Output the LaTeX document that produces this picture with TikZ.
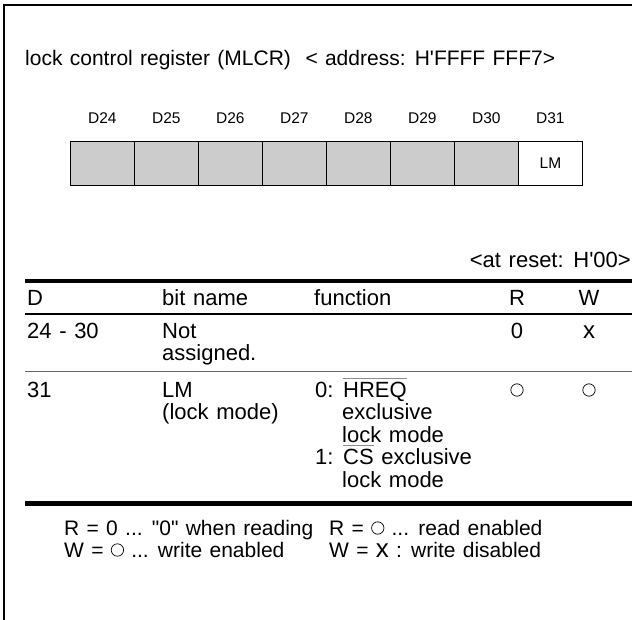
\documentclass[tikz,border=0pt]{standalone}
\usepackage{fontspec}
\setmainfont{Liberation Sans}[WordSpace=1.25, Ligatures=TeXOff]
\usetikzlibrary{positioning}

% bar over an active-low signal name
\newcommand\actlow[1]{\setbox0\hbox{#1}\rlap{\color{black!45}\rule[\dimexpr\ht0+3pt\relax]{\wd0}{0.8pt}}\box0\relax}
% open circle mark for R/W columns
\newcommand\rwmark{\tikz[baseline=0pt]\draw[line width=0.7pt] (0pt,7pt) circle[radius=6.2pt];}

\begin{document}
\begin{tikzpicture}[x=1pt, y=-1pt,
    every node/.style={inner sep=0pt, font=\fontsize{22}{26}\selectfont},
    txt/.style={anchor=base west},
    ctr/.style={anchor=base},
    bitcell/.style={draw, fill=black!20, line width=0.8pt, minimum width=64pt, minimum height=44pt, anchor=north west},
    bitlabel/.style={font=\fontsize{15.5}{18}\selectfont},
    legend/.style={anchor=base west, font=\fontsize{21}{24}\selectfont}]
  \useasboundingbox (0,0) rectangle (632,620);

  % Frame
  \draw[line width=2pt] (4,620) -- (4,5) -- (632,5);

  % Register layout
  \node[txt, font=\fontsize{21}{24}\selectfont] (title) at (25,66) {lock control register (MLCR)\ \ < address: H'FFFF FFF7>};
  \foreach \b [count=\i from 0] in {24,...,30}
    \node[bitcell] (c\b) at (70+64*\i,141) {};
  \node[bitcell, fill=white, bitlabel] (c31) at (518,141) {LM};
  \foreach \b in {24,...,31}
    \node[bitlabel, above=17pt of c\b] (d\b) {D\b};

  % Table
  \node[anchor=base east] (reset) at (631,268) {<at reset: H'00>};
  \draw[line width=4.5pt] (25,281) -- (632,281);
  \node[txt] (hd) at (27,306) {D};
  \node[txt] (hname) at (162,306) {bit name};
  \node[txt] (hfunc) at (314,306) {function};
  \node[ctr] (hr) at (517,306) {R};
  \node[ctr] (hw) at (589,306) {W};
  \draw[line width=2pt] (25,314) -- (632,314);

  \node[txt] (d1) at (27,338) {24 - 30};
  \node[txt] (n1) at (162,338) {Not};
  \node[txt] (n1b) at (162,360.5) {assigned.};
  \node[ctr] (r1) at (517,338) {0};
  \node[ctr, font=\fontsize{24}{26}\selectfont] (w1) at (589,338) {x};
  \draw[line width=0.8pt, black!60] (25,371) -- (632,371);

  \node[txt] (d2) at (27,397) {31};
  \node[txt] (n2) at (162,397) {LM};
  \node[txt] (n2b) at (162,419.5) {(lock mode)};
  \node[txt] (f1) at (315,397) {0: \actlow{HREQ}};
  \node[txt] (f2) at (342,419.5) {exclusive};
  \node[txt] (f3) at (342,442) {lock mode};
  \node[txt] (f4) at (315,464.5) {1: \actlow{CS} exclusive};
  \node[txt] (f5) at (342,487) {lock mode};
  \node[ctr] (r2) at (517,397) {\rwmark};
  \node[ctr] (w2) at (589,397) {\rwmark};
  \draw[line width=5pt] (25,503) -- (632,503);

  % Legend
  \node[legend] (lg1) at (64,535) {R = 0 ... "0" when reading};
  \node[legend] (lg2) at (329,535) {R = \rwmark\ ... read enabled};
  \node[legend] (lg3) at (64,557) {W = \rwmark\ ... write enabled};
  \node[legend] (lg4) at (329,557) {W = {\fontsize{26}{26}\selectfont x} : write disabled};
\end{tikzpicture}
\end{document}
